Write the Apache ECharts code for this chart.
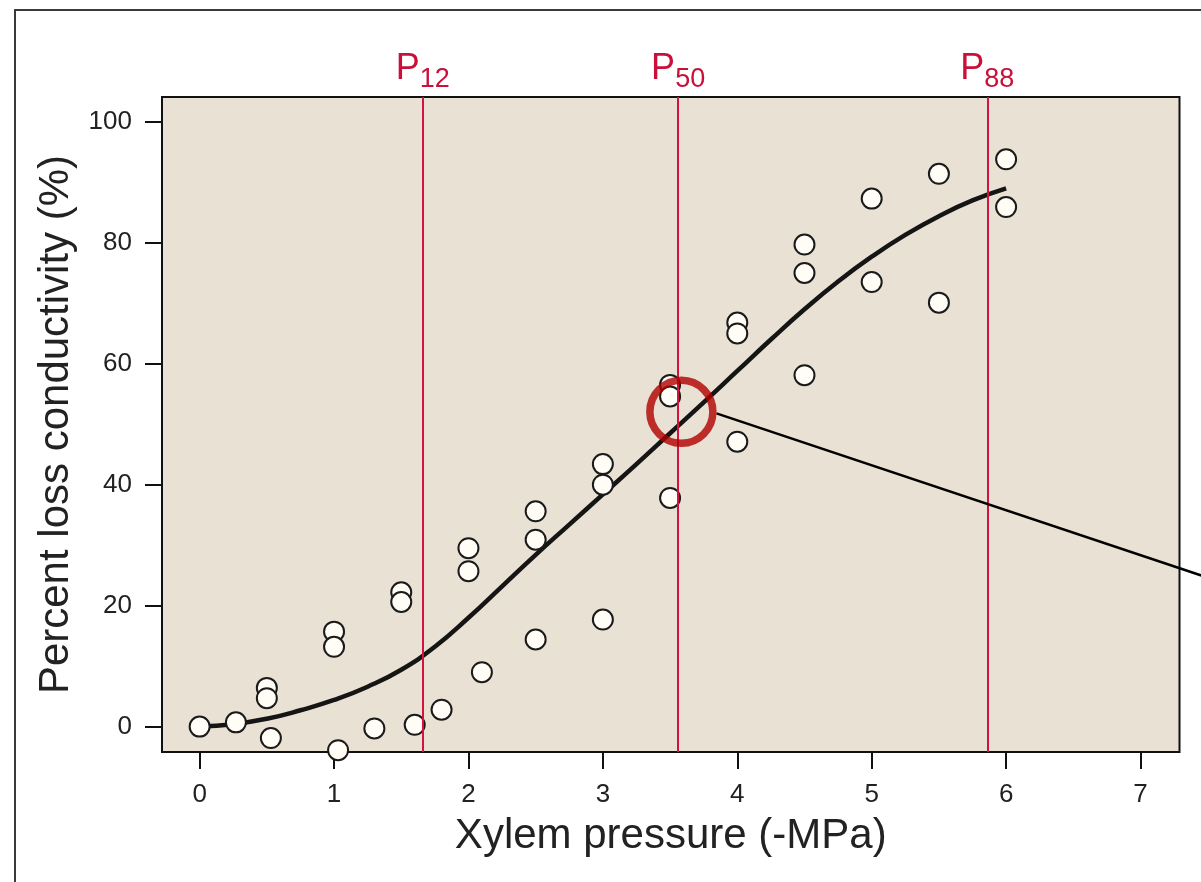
<!DOCTYPE html>
<html lang="en">
<head>
<meta charset="utf-8">
<title>Xylem vulnerability curve</title>
<script src="https://cdn.jsdelivr.net/npm/echarts@6.0.0/dist/echarts.min.js"></script>
<style>
  html, body { margin: 0; padding: 0; background: #fff; }
  #main { width: 1201px; height: 882px; }
</style>
</head>
<body>
<div id="main"></div>
<script>
// measured points (pressure in -MPa, percent loss of conductivity)
const pressure = [0, 0.27, 0.5, 0.5, 0.53, 1.0, 1.0, 1.03, 1.3, 1.6, 1.8, 1.5, 1.5,
  2.0, 2.0, 2.1, 2.5, 2.5, 2.5, 3.0, 3.0, 3.0, 3.5, 3.5, 3.5,
  4.0, 4.0, 4.0, 4.5, 4.5, 4.5, 5.0, 5.0, 5.5, 5.5, 6.0, 6.0];
const loss = [0, 0.7, 6.4, 4.7, -1.9, 15.7, 13.2, -3.9, -0.3, 0.3, 2.8, 22.2, 20.6,
  29.5, 25.7, 9.0, 35.6, 30.9, 14.4, 43.4, 40.0, 17.7, 56.5, 54.6, 37.8,
  66.8, 65.0, 47.1, 79.7, 75.0, 58.1, 87.3, 73.5, 91.4, 70.1, 93.8, 85.9];

// fitted curve
const curveX = [0, 0.25, 0.5, 0.75, 1.0, 1.25, 1.5, 1.75, 2.0, 2.25, 2.5, 2.75, 3.0,
  3.25, 3.5, 3.75, 4.0, 4.25, 4.5, 4.75, 5.0, 5.25, 5.5, 5.75, 6.0];
const curveY = [0, 0.4, 1.3, 2.7, 4.4, 6.6, 9.4, 13.2, 18.0, 23.2, 28.4, 33.4, 38.4,
  43.4, 48.5, 53.6, 58.8, 64.0, 69.0, 73.6, 77.7, 81.3, 84.4, 87.0, 89.0];

// P12 / P50 / P88 markers
const pValues = [1.661, 3.559, 5.86];
const pNames = ['12', '50', '88'];

// highlighted point and the pointer leaving it
const highlight = [3.584, 52.05];
const pointerX = [3.845, 7.6];
const pointerY = [51.8, 23.9];

const xTicks = [0, 1, 2, 3, 4, 5, 6, 7];
const yTicks = [0, 20, 40, 60, 80, 100];

const font = 'Liberation Sans';
const chart = echarts.init(document.getElementById('main'), null, { renderer: 'canvas' });

const option = {
  animation: false,
  backgroundColor: '#fff',
  textStyle: { fontFamily: font },
  graphic: [{
    type: 'rect',
    shape: { x: 15, y: 10, width: 1400, height: 1000 },
    style: { fill: 'none', stroke: '#3a3a3a', lineWidth: 2 },
    silent: true
  }],
  grid: {
    left: 162, right: 21.5, top: 97, bottom: 130,
    show: true,
    backgroundColor: '#e9e1d3',
    borderColor: '#111',
    borderWidth: 2
  },
  xAxis: {
    type: 'value',
    min: -0.28, max: 7.29,
    name: 'Xylem pressure (-MPa)',
    nameLocation: 'middle',
    nameGap: 63,
    nameTextStyle: { fontFamily: font, fontSize: 42, color: '#222' },
    axisLine: { show: false, onZero: false },
    axisTick: { show: true, customValues: xTicks, length: 17, lineStyle: { color: '#111', width: 2 } },
    axisLabel: { customValues: xTicks, margin: 30, fontFamily: font, fontSize: 26, color: '#222' },
    splitLine: { show: false }
  },
  yAxis: {
    type: 'value',
    min: -4.2, max: 104.1,
    name: 'Percent loss conductivity (%)',
    nameLocation: 'middle',
    nameGap: 82,
    nameTextStyle: { fontFamily: font, fontSize: 42, color: '#222' },
    axisLine: { show: false, onZero: false },
    axisTick: { show: true, customValues: yTicks, length: 17, lineStyle: { color: '#111', width: 2 } },
    axisLabel: { customValues: yTicks, margin: 30, fontFamily: font, fontSize: 26, color: '#222' },
    splitLine: { show: false }
  },
  series: [
    {
      type: 'line',
      name: 'fit',
      data: curveX.map((x, i) => [x, curveY[i]]),
      smooth: true,
      showSymbol: false,
      lineStyle: { color: '#151515', width: 4.5 },
      z: 3,
      markLine: {
        silent: true,
        symbol: 'none',
        lineStyle: { color: '#d4123f', width: 2, type: 'solid' },
        label: {
          show: true,
          position: 'end',
          distance: 4,
          formatter: p => '{p|P}{s|' + p.name + '}',
          rich: {
            p: { fontFamily: font, fontSize: 36, color: '#c8103a', lineHeight: 22, verticalAlign: 'top' },
            s: { fontFamily: font, fontSize: 27, color: '#c8103a', lineHeight: 42, verticalAlign: 'bottom' }
          }
        },
        emphasis: { disabled: true },
        data: pValues.map((v, i) => ({ xAxis: v, name: pNames[i] }))
      }
    },
    {
      type: 'scatter',
      name: 'measured',
      data: pressure.map((x, i) => [x, loss[i]]),
      symbol: 'circle',
      symbolSize: 20,
      itemStyle: { color: '#fffdf5', borderColor: '#1a1a1a', borderWidth: 2, opacity: 1 },
      z: 4
    },
    {
      type: 'scatter',
      name: 'highlight',
      data: [highlight],
      symbol: 'circle',
      symbolSize: 63,
      itemStyle: { color: 'rgba(0,0,0,0)', borderColor: '#b00000', borderWidth: 7.5 },
      z: 6
    },
    {
      // pointer line runs past the plot frame to the page edge
      type: 'custom',
      name: 'pointer',
      data: [[pointerX[0], pointerY[0], pointerX[1], pointerY[1]]],
      encode: { x: [0, 2], y: [1, 3] },
      clip: false,
      silent: true,
      z: 6,
      renderItem: function (params, api) {
        const a = api.coord([api.value(0), api.value(1)]);
        const b = api.coord([api.value(2), api.value(3)]);
        return {
          type: 'line',
          shape: { x1: a[0], y1: a[1], x2: b[0], y2: b[1] },
          style: { stroke: '#000', lineWidth: 2.5 }
        };
      }
    }
  ]
};

chart.setOption(option);
</script>
</body>
</html>
